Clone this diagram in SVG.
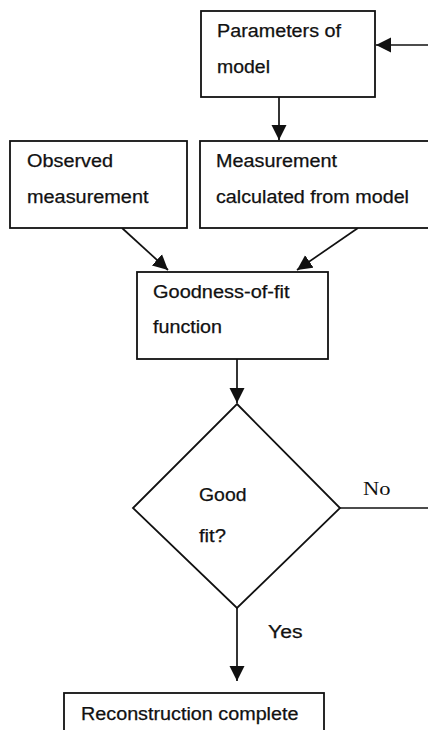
<svg xmlns="http://www.w3.org/2000/svg" width="428" height="730" viewBox="0 0 428 730">
<defs>
<style>
.box{fill:#fff;stroke:#111;stroke-width:1.8}
.ln{fill:none;stroke:#111;stroke-width:1.7}
.t{font-family:"Liberation Sans",Arial,sans-serif;font-size:17.5px;fill:#111;stroke:#111;stroke-width:0.25}
.s{font-family:"Liberation Serif","Times New Roman",serif;font-size:19px;fill:#111}
</style>
<marker id="ah" markerUnits="userSpaceOnUse" markerWidth="16" markerHeight="16" viewBox="0 0 16 16" refX="15" refY="8" orient="auto">
<path d="M0,0.5 L15,8 L0,15.5 Z" fill="#111"/>
</marker>
</defs>
<rect width="428" height="730" fill="#fff"/>
<g id="connectors">
<line class="ln" x1="428" y1="45" x2="376" y2="45" marker-end="url(#ah)"/>
<line class="ln" x1="279" y1="97" x2="279" y2="140" marker-end="url(#ah)"/>
<line class="ln" x1="122" y1="228" x2="168" y2="270" marker-end="url(#ah)"/>
<line class="ln" x1="358" y1="228" x2="297" y2="270" marker-end="url(#ah)"/>
<line class="ln" x1="237" y1="359" x2="237" y2="403" marker-end="url(#ah)"/>
<line class="ln" x1="340" y1="508" x2="428" y2="508"/>
<line class="ln" x1="237" y1="608" x2="237" y2="681" marker-end="url(#ah)"/>
</g>
<g id="parameters">
<rect class="box" x="201" y="11" width="174" height="86"/>
<text class="t" x="217" y="37" textLength="124" lengthAdjust="spacingAndGlyphs">Parameters of</text>
<text class="t" x="217" y="73" textLength="53" lengthAdjust="spacingAndGlyphs">model</text>
</g>
<g id="observed">
<rect class="box" x="10" y="141" width="177" height="87"/>
<text class="t" x="27" y="167" textLength="86" lengthAdjust="spacingAndGlyphs">Observed</text>
<text class="t" x="27" y="203" textLength="121.5" lengthAdjust="spacingAndGlyphs">measurement</text>
</g>
<g id="calculated">
<rect class="box" x="200" y="141" width="232" height="87"/>
<text class="t" x="216" y="167" textLength="121" lengthAdjust="spacingAndGlyphs">Measurement</text>
<text class="t" x="216" y="203" textLength="193" lengthAdjust="spacingAndGlyphs">calculated from model</text>
</g>
<g id="goodness">
<rect class="box" x="137" y="272" width="191" height="87"/>
<text class="t" x="153" y="298" textLength="136.5" lengthAdjust="spacingAndGlyphs">Goodness-of-fit</text>
<text class="t" x="153" y="333" textLength="69" lengthAdjust="spacingAndGlyphs">function</text>
</g>
<g id="decision">
<polygon class="box" points="237,404 340,508 237,608 133,508"/>
<text class="t" x="199" y="501" textLength="47.5" lengthAdjust="spacingAndGlyphs">Good</text>
<text class="t" x="199" y="542" textLength="27" lengthAdjust="spacingAndGlyphs">fit?</text>
</g>
<g id="labels">
<text class="s" x="363" y="495" textLength="27.5" lengthAdjust="spacingAndGlyphs">No</text>
<text class="t" x="268" y="638" textLength="34.5" lengthAdjust="spacingAndGlyphs">Yes</text>
</g>
<g id="complete">
<rect class="box" x="64" y="693" width="260" height="45"/>
<text class="t" x="81" y="720" textLength="217.5" lengthAdjust="spacingAndGlyphs">Reconstruction complete</text>
</g>
</svg>
